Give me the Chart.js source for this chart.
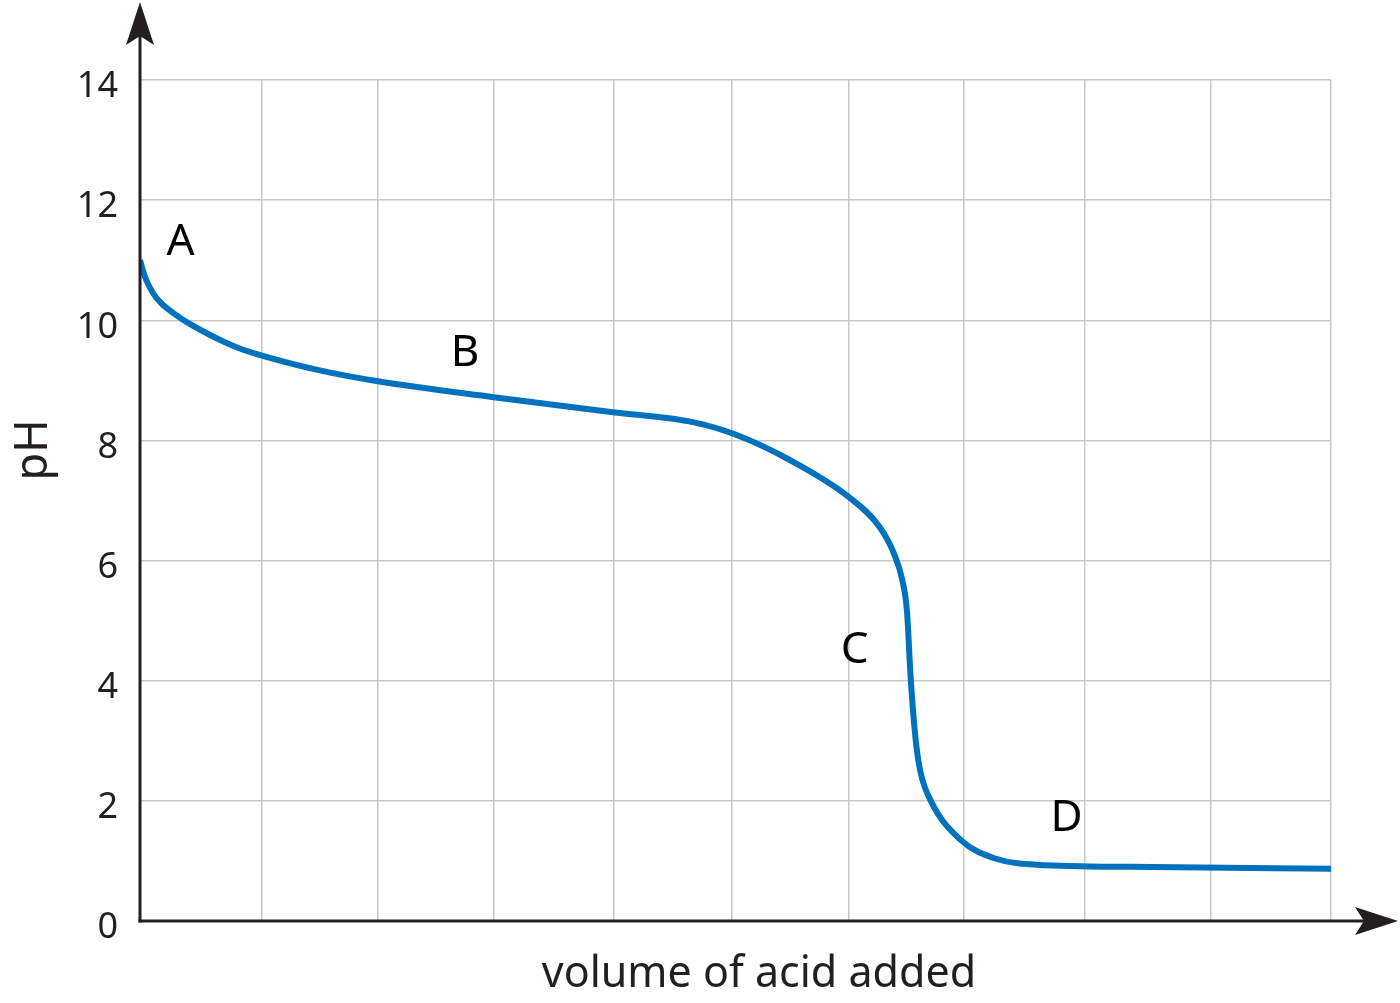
<!DOCTYPE html>
<html>
<head>
<meta charset="utf-8">
<script src="https://cdn.jsdelivr.net/npm/chart.js@4/dist/chart.umd.min.js"></script>
<style>
  html, body { margin: 0; padding: 0; background: #ffffff; }
  #wrap { width: 1400px; height: 1003px; }
</style>
</head>
<body>
<div id="wrap"><canvas id="titrationChart"></canvas></div>
<script>
// 적정 곡선 데이터
const volumes = [0, 0.042, 0.11, 0.18, 0.28, 0.41, 0.80, 1.01, 1.5, 2.01, 2.97, 3.97, 4.65, 5.01, 5.46, 5.95, 6.21, 6.33, 6.40, 6.44, 6.47, 6.51, 6.55, 6.64, 6.89, 7.18, 7.6, 8.5, 10];
const phValues = [11, 10.72, 10.45, 10.28, 10.12, 9.95, 9.56, 9.42, 9.17, 8.98, 8.72, 8.47, 8.3, 8.09, 7.67, 7.06, 6.56, 6.12, 5.68, 5.15, 4.07, 3.07, 2.51, 2.0, 1.35, 1.04, 0.93, 0.9, 0.87];
const yTicks = [0, 2, 4, 6, 8, 10, 12, 14];
// 세로 격자선 (원본 간격이 조금씩 다름)
const xGrid = [0, 1.024, 1.998, 2.972, 3.98, 4.97, 5.953, 6.919, 7.935, 8.992, 10];

// 곡선 위 구간 표시 글자
const regionLetters = ["A", "B", "C", "D"];
const letterX = [0.34, 2.73, 6.0, 7.78];
const letterY = [11.3, 9.45, 4.5, 1.7];

const xTitle = "volume of acid added";
const yTitle = "pH";

const TEXT_COLOR = "#231f20";
const FONT = "'Noto Sans', sans-serif";

// 축 화살표 + 글자 그리기
const overlayPlugin = {
  id: "overlay",
  afterDraw(chart) {
    const { ctx, chartArea, scales } = chart;
    const left = chartArea.left;
    const bottom = chartArea.bottom;

    ctx.save();
    ctx.strokeStyle = TEXT_COLOR;
    ctx.fillStyle = TEXT_COLOR;
    ctx.lineWidth = 3;

    // y 축
    ctx.beginPath();
    ctx.moveTo(left, bottom + 1.5);
    ctx.lineTo(left, 30);
    ctx.stroke();
    ctx.beginPath();
    ctx.moveTo(left, 2);
    ctx.lineTo(left - 14, 45);
    ctx.lineTo(left, 36);
    ctx.lineTo(left + 14, 45);
    ctx.closePath();
    ctx.fill();

    // x 축
    ctx.beginPath();
    ctx.moveTo(left - 1.5, bottom);
    ctx.lineTo(1370, bottom);
    ctx.stroke();
    ctx.beginPath();
    ctx.moveTo(1398, bottom);
    ctx.lineTo(1355, bottom - 14);
    ctx.lineTo(1364, bottom);
    ctx.lineTo(1355, bottom + 14);
    ctx.closePath();
    ctx.fill();

    // 구간 글자
    ctx.fillStyle = "#000000";
    ctx.font = "44px " + FONT;
    ctx.textAlign = "center";
    ctx.textBaseline = "middle";
    regionLetters.forEach((letter, i) => {
      ctx.fillText(letter, scales.x.getPixelForValue(letterX[i]), scales.y.getPixelForValue(letterY[i]));
    });

    // 축 제목
    ctx.fillStyle = TEXT_COLOR;
    ctx.font = "43px " + FONT;
    ctx.fillText(xTitle, 759, 975);

    ctx.save();
    ctx.translate(34, 450);
    ctx.rotate(-Math.PI / 2);
    ctx.font = "45px " + FONT;
    ctx.fillText(yTitle, 0, 0);
    ctx.restore();

    ctx.restore();
  }
};

const ctx = document.getElementById("titrationChart").getContext("2d");

new Chart(ctx, {
  type: "line",
  data: {
    datasets: [{
      data: volumes.map((v, i) => ({ x: v, y: phValues[i] })),
      borderColor: "#0071bc",
      borderWidth: 6,
      pointRadius: 0,
      fill: false,
      cubicInterpolationMode: "monotone",
      borderCapStyle: "butt"
    }]
  },
  options: {
    responsive: true,
    maintainAspectRatio: false,
    animation: false,
    layout: {
      padding: { top: 80, right: 69, bottom: 0, left: 0 }
    },
    plugins: {
      legend: { display: false },
      tooltip: { enabled: false }
    },
    scales: {
      x: {
        type: "linear",
        min: 0,
        max: 10,
        afterFit(scale) { scale.height = 82; },
        afterBuildTicks(scale) {
          scale.ticks = xGrid.map((v) => ({ value: v }));
        },
        ticks: { display: false },
        grid: { color: "#c8c8c8", lineWidth: 1.5, drawTicks: false },
        border: { display: false }
      },
      y: {
        min: 0,
        max: 14,
        afterFit(scale) { scale.width = 140; },
        afterBuildTicks(scale) {
          scale.ticks = yTicks.map((v) => ({ value: v }));
        },
        ticks: {
          color: TEXT_COLOR,
          padding: 22,
          labelOffset: 7,
          font: { family: FONT, size: 36 }
        },
        grid: { color: "#c8c8c8", lineWidth: 1.5, drawTicks: false },
        border: { display: false }
      }
    }
  },
  plugins: [overlayPlugin]
});
</script>
</body>
</html>
